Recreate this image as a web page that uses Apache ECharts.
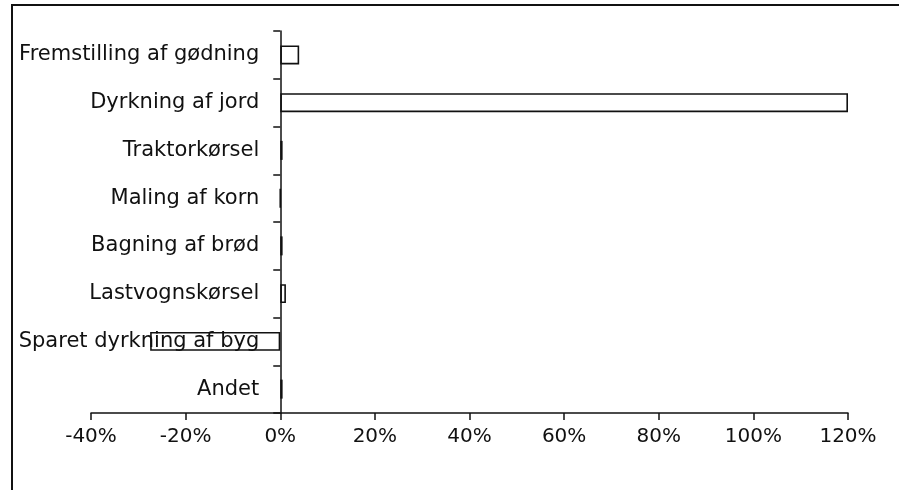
<!DOCTYPE html>
<html>
<head>
<meta charset="utf-8">
<script src="https://cdn.jsdelivr.net/npm/echarts@6/dist/echarts.min.js"></script>
<style>
html,body{margin:0;padding:0;background:#fff;}
#chart{width:899px;height:490px;}
</style>
</head>
<body>
<div id="chart"></div>
<script>
var categories = ['Fremstilling af gødning', 'Dyrkning af jord', 'Traktorkørsel', 'Maling af korn', 'Bagning af brød', 'Lastvognskørsel', 'Sparet dyrkning af byg', 'Andet'];
var values = [4, 120, 0.5, 0, 0.5, 1.2, -27.5, 0.5];
var xTicks = { min: -40, max: 120, step: 20 };

var font = 'DejaVu Sans';
var gridLeft = 91, gridRight = 51, width = 899;
var zeroOffset = (width - gridLeft - gridRight) * (0 - xTicks.min) / (xTicks.max - xTicks.min);
var chart = echarts.init(document.getElementById('chart'));
chart.setOption({
  animation: false,
  backgroundColor: '#fff',
  grid: { left: gridLeft, right: gridRight, top: 31, bottom: 77, containLabel: false, outerBoundsMode: 'none' },
  graphic: [{
    type: 'rect', z: 100, silent: true,
    shape: { x: 12, y: 5, width: 1000, height: 1000 },
    style: { fill: 'none', stroke: '#111', lineWidth: 2 }
  }],
  xAxis: {
    type: 'value', min: xTicks.min, max: xTicks.max, interval: xTicks.step,
    axisLine: { show: true, onZero: false, lineStyle: { color: '#111', width: 1.5 } },
    axisTick: { show: true, length: 7, lineStyle: { color: '#111', width: 1.5 } },
    splitLine: { show: false },
    axisLabel: { formatter: '{value}%', color: '#111', fontFamily: font, fontSize: 20, margin: 14 }
  },
  yAxis: {
    type: 'category', data: categories, inverse: true, offset: -zeroOffset,
    axisLine: { show: true, onZero: false, lineStyle: { color: '#111', width: 1.5 } },
    axisTick: { show: true, length: 7, inside: false, lineStyle: { color: '#111', width: 1.5 } },
    axisLabel: { color: '#111', fontFamily: font, fontSize: 21, margin: 21, padding: [3, 0, 0, 0] },
    splitLine: { show: false }
  },
  series: [{
    type: 'bar', data: values, barWidth: 19, z: 5,
    itemStyle: { color: 'rgba(255,255,255,0)', borderColor: '#111', borderWidth: 1.6 }
  }]
});
</script>
</body>
</html>
